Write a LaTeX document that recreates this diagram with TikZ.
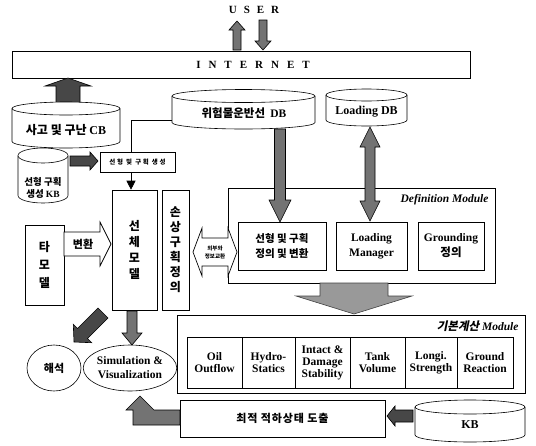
\documentclass[tikz,border=0pt]{standalone}
\usepackage{fontspec}
\setmainfont{Liberation Serif}
\newfontfamily\kr{Noto Sans CJK KR}
\newfontfamily\krsl{Noto Sans CJK KR}[FakeSlant=0.2]
\usetikzlibrary{arrows.meta,shapes.geometric}
\newcommand\myfs[2]{\fontsize{#1}{#2}\selectfont}
% vertical block arrow: x, ytail, ytip, shaft half, head half, head length, style
\newcommand\myvarr[7]{%
  \pgfmathsetmacro\myd{(#3>#2) ? -#6 : #6}%
  \pgfmathsetmacro\myb{#3+\myd}%
  \draw[#7] (#1-#4,#2) -- (#1-#4,\myb) -- (#1-#5,\myb) -- (#1,#3) -- (#1+#5,\myb) -- (#1+#4,\myb) -- (#1+#4,#2) -- cycle;}
% horizontal block arrow: y, xtail, xtip, shaft half, head half, head length, style
\newcommand\myharr[7]{%
  \pgfmathsetmacro\myd{(#3>#2) ? -#6 : #6}%
  \pgfmathsetmacro\myb{#3+\myd}%
  \draw[#7] (#2,#1-#4) -- (\myb,#1-#4) -- (\myb,#1-#5) -- (#3,#1) -- (\myb,#1+#5) -- (\myb,#1+#4) -- (#2,#1+#4) -- cycle;}
% cylinder: name, x1, x2, y of top ellipse centre, y of bottom arc centre, ry
\newcommand\mycyl[6]{%
  \pgfmathsetmacro\mycx{(#2+#3)/2}%
  \pgfmathsetmacro\myrx{(#3-#2)/2}%
  \draw[bx, fill=white] (#2,#4) -- (#2,#5) arc[start angle=180, end angle=0, x radius=\myrx, y radius=#6] -- (#3,#4);
  \draw[bx, fill=white] (\mycx,#4) ellipse[x radius=\myrx, y radius=#6];
  \coordinate (#1) at (\mycx,#4);}
\tikzset{
  bx/.style={draw, line width=0.6pt, inner sep=0pt},
  darr/.style={draw=black, line width=0.6pt, fill=black!72},
  marr/.style={draw=black, line width=0.6pt, fill=black!55},
  harr/.style={draw=black, line width=0.7pt, fill=white},
  thinline/.style={draw, line width=0.6pt},
}
\begin{document}
\begin{tikzpicture}[x=1pt,y=-1pt]
\useasboundingbox (0,0) rectangle (536,445);

% USER and INTERNET
\node[font=\bfseries\myfs{11}{13}] (user) at (254,10) {U\hspace{7pt}S\hspace{7pt}E\hspace{7pt}R};
\myvarr{237}{50}{21}{4}{8}{9}{marr}
\myvarr{263}{20}{50}{4}{8}{9}{marr}
\node[bx, minimum width=458pt, minimum height=27pt] (internet) at (241,64.5) {};
\node[font=\bfseries\myfs{11}{13}] (inettxt) at (253,64.5) {I\hspace{8pt}N\hspace{8pt}T\hspace{8pt}E\hspace{8pt}R\hspace{8pt}N\hspace{8pt}E\hspace{8pt}T};

% CB arrow and cylinders
\myvarr{68}{103}{78}{12}{23}{8}{darr}
\mycyl{cbtop}{12}{120}{108.5}{141.5}{6.5}
\node[font=\kr\bfseries\myfs{12}{14}] (cb) at (66,130) {사고 및 구난 {\rmfamily\bfseries CB}};
\mycyl{wdbtop}{172}{315}{96}{122.5}{6.5}
\node[font=\kr\bfseries\myfs{11.5}{14}] (wdb) at (244,113) {위험물운반선\ \ {\rmfamily\bfseries DB}};
\mycyl{ldbtop}{326}{407}{95}{120}{6}
\node[font=\bfseries\myfs{12}{14}] (ldb) at (366.5,112) {Loading DB};
\mycyl{kbtop}{18}{68}{155.5}{195.5}{7.5}
\node[font=\kr\bfseries\myfs{9.5}{12}, align=center] (kb1) at (43,188) {선형 구획\\생성 {\rmfamily\bfseries KB}};

% small box and thin connector
\myharr{161}{70}{98}{5}{9}{8}{darr}
\node[bx, minimum width=75pt, minimum height=20pt, font=\kr\bfseries\myfs{6.5}{8}] (sbox) at (137.5,162) {\addfontfeature{LetterSpace=25}선형 및 구획 생성};
\node[bx, minimum width=45pt, minimum height=120pt, font=\kr\bfseries\myfs{12}{16}, align=center] (hull) at (134.5,250) {선\\체\\모\\델};
\coordinate (lx) at (131,0);
\coordinate (wdbl) at (172,120);
\draw[thinline] (wdbl) -| (sbox.north -| lx);
\draw[thinline, -{Triangle[width=9pt,length=9pt]}] (sbox.south -| lx) -- (hull.north -| lx);

% left column
\node[bx, minimum width=27pt, minimum height=120pt, font=\kr\bfseries\myfs{12}{15}, align=center] (dmg) at (175.5,250) {손\\상\\구\\획\\정\\의};
\node[bx, minimum width=39pt, minimum height=80pt, font=\kr\bfseries\myfs{12}{18}, align=center] (other) at (44.5,265) {타\\모\\델};
\myharr{244}{64}{111}{12}{22}{11}{harr}
\node[font=\kr\bfseries\myfs{11}{13}] (conv) at (83,244) {변환};

% Definition module
\node[bx, minimum width=267pt, minimum height=95pt] (defmod) at (361.5,235.5) {};
\node[font=\bfseries\itshape\myfs{11.5}{13}, anchor=east] (deflbl) at (492,200) {Definition Module};
\node[bx, minimum width=88pt, minimum height=48pt, font=\kr\bfseries\myfs{10.5}{15}, align=center] (defa) at (282,246) {선형 및 구획\\정의 및 변환};
\node[bx, minimum width=71pt, minimum height=48pt, font=\bfseries\myfs{11.5}{15}, align=center] (defb) at (371.5,246) {Loading\\Manager};
\node[bx, minimum width=66pt, minimum height=48pt, font=\bfseries\myfs{11.5}{15}, align=center] (defc) at (451,246) {Grounding\\{\kr 정의}};
\draw[harr] (193,252) -- (202,228) -- (202,238) -- (228,238) -- (228,228) -- (237,252) -- (228,276) -- (228,266) -- (202,266) -- (202,276) -- cycle;
\node[font=\kr\bfseries\myfs{5.5}{8}, align=center] (xchg) at (215,252) {외부와\\정보교환};
\myvarr{280}{129}{222}{5.5}{11}{22}{marr}
\draw[marr] (370,127) -- (380,147) -- (375,147) -- (375,201) -- (380,201) -- (370,221) -- (360,201) -- (365,201) -- (365,147) -- (360,147) -- cycle;
\myvarr{354}{283}{314}{34}{58}{18}{draw=black!75, line width=0.6pt, fill=black!40}

% Basic calculation module
\node[bx, minimum width=348pt, minimum height=78pt] (calc) at (351,354) {};
\node[anchor=east, font=\bfseries\itshape\myfs{11.5}{13}] (calclbl) at (522,326) {{\krsl\bfseries 기본계산} Module};
\tikzset{cell/.style={bx, minimum height=51pt, font=\bfseries\myfs{11.5}{12}, align=center}}
\node[cell, minimum width=55pt] (c1) at (214.5,362.5) {Oil\\Outflow};
\node[cell, minimum width=53pt] (c2) at (268.5,362.5) {Hydro-\\Statics};
\node[cell, minimum width=55pt] (c3) at (322.5,362.5) {Intact \&\\Damage\\Stability};
\node[cell, minimum width=55pt] (c4) at (377.5,362.5) {Tank\\Volume};
\node[cell, minimum width=52pt] (c5) at (431,362.5) {Longi.\\Strength};
\node[cell, minimum width=56pt] (c6) at (485,362.5) {Ground\\Reaction};

% bottom
\node[bx, minimum width=205pt, minimum height=37pt, font=\kr\bfseries\myfs{11}{13}] (opt) at (282.5,418.5) {\addfontfeature{LetterSpace=8}최적 적하상태 도출};
\myharr{416}{413}{387}{6}{10}{8}{darr}
\mycyl{kbbtop}{415}{525}{407}{435}{7}
\node[font=\bfseries\myfs{12}{14}] (kb2) at (470,425) {KB};

% outputs
\node[draw, ellipse, line width=0.6pt, minimum width=54pt, minimum height=46pt, inner sep=0pt, font=\kr\bfseries\myfs{11}{13}] (anal) at (54,368) {해석};
\node[draw, ellipse, line width=0.6pt, minimum width=86pt, minimum height=46pt, inner sep=0pt, font=\bfseries\myfs{11.5}{14}, align=center] (sim) at (130,368) {Simulation \&\\Visualization};
\draw[darr] (108,318) -- (87.5,338.5) -- (91.7,342.7) -- (74,342) -- (73.3,324.3) -- (77.5,328.5) -- (98,308) -- cycle;
\myvarr{132}{311}{345}{5}{10}{12}{marr}
\draw[marr] (180,410) -- (154,410) -- (140,396) -- (126,410) -- (133,410) -- (133,425) -- (180,425) -- cycle;
\end{tikzpicture}
\end{document}
